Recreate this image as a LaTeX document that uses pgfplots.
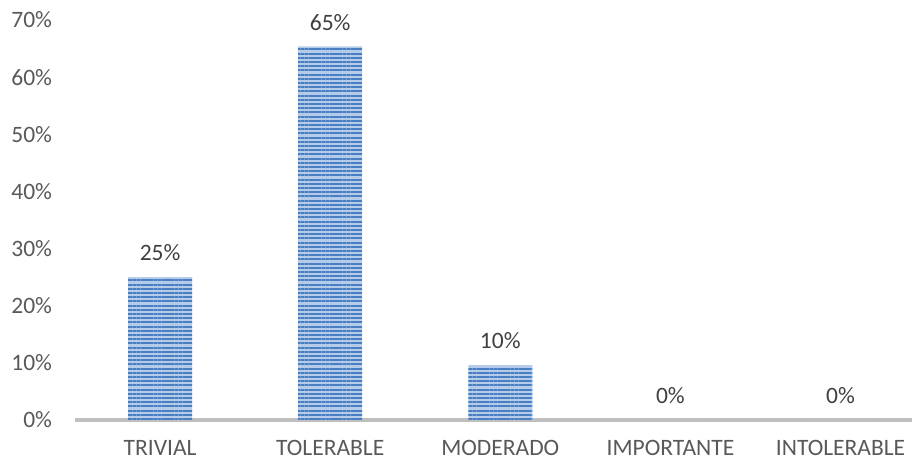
\documentclass[border=0pt]{standalone}
\usepackage{pgfplots}
\pgfplotsset{compat=1.18}
\usepackage{fontspec}
\setmainfont{Carlito}
\usetikzlibrary{patterns.meta}
\definecolor{darkstripe}{HTML}{4A7EC3}
\definecolor{lightstripe}{HTML}{B4CBEA}
\definecolor{ticktext}{HTML}{595959}
\definecolor{labeltext}{HTML}{404040}
\definecolor{axisgray}{HTML}{BFBFBF}
\begin{document}
\fontsize{23.5bp}{28bp}\selectfont
\begin{tikzpicture}
\useasboundingbox (0,0) rectangle (912bp,461bp);
\begin{axis}[
  at={(75bp,41bp)}, anchor=south west,
  scale only axis,
  width=837bp, height=400bp,
  xmin=-0.5, xmax=4.42,
  ymin=0, ymax=70,
  ytick={0,10,...,70},
  xtick={0,1,2,3,4},
  xticklabels={TRIVIAL,TOLERABLE,MODERADO,IMPORTANTE,INTOLERABLE},
  yticklabel={\pgfmathprintnumber{\tick}\%},
  /pgf/number format/assume math mode=true,
  axis x line*=bottom,
  axis y line*=left,
  y axis line style={draw=none},
  x axis line style={draw=axisgray, line width=3.5bp, -},
  major tick length=0pt,
  tick style={draw=none},
  xticklabel style={font=\fontsize{23.5bp}{28bp}\selectfont, text=ticktext, yshift=-12bp},
  yticklabel style={font=\fontsize{23.5bp}{28bp}\selectfont, text=ticktext, xshift=-15bp},
  ybar, bar width=64bp,
  nodes near coords={\pgfmathprintnumber[fixed,precision=0]{\pgfplotspointmeta}\%},
  every node near coord/.append style={font=\fontsize{23.5bp}{28bp}\selectfont, text=labeltext, yshift=8bp},
  clip=false,
]
\addplot[draw=none, fill=lightstripe,
  postaction={pattern={Lines[angle=0, distance=4.2bp, line width=2.1bp]}, pattern color=darkstripe}]
  coordinates {(0,25) (1,65.4) (2,9.6) (3,0) (4,0)};
\end{axis}
\end{tikzpicture}
\end{document}
